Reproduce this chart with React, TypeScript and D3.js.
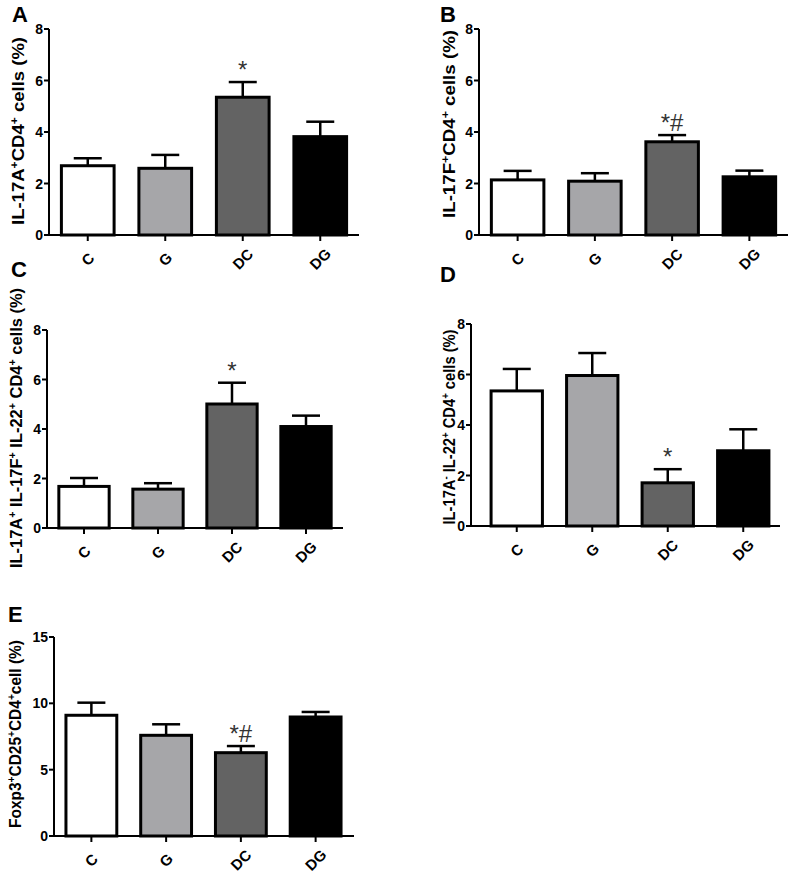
import React from "react";
import * as d3 from "d3";

const groups = ["C", "G", "DC", "DG"];
const fills = ["#ffffff", "#a6a6a9", "#636363", "#000000"];

const meanA = [2.69, 2.59, 5.35, 3.82];
const semA = [0.29, 0.52, 0.59, 0.58];
const meanB = [2.14, 2.09, 3.62, 2.26];
const semB = [0.35, 0.31, 0.26, 0.24];
const meanC = [1.68, 1.57, 5.01, 4.1];
const semC = [0.34, 0.24, 0.86, 0.44];
const meanD = [5.35, 5.96, 1.71, 2.98];
const semD = [0.87, 0.89, 0.54, 0.85];
const meanE = [9.1, 7.59, 6.28, 8.97];
const semE = [0.95, 0.83, 0.5, 0.38];

const ticks8 = [0, 2, 4, 6, 8];
const ticks15 = [0, 5, 10, 15];

const FONT = "'Liberation Sans', Arial, Helvetica, sans-serif";

type LabelPart = { t: string; sup?: boolean };

type PanelProps = {
  letter: string;
  letterX: number;
  letterY: number;
  axisX: number;
  axisRight: number;
  bandStart: number;
  bandEnd: number;
  y0: number;
  yTop: number;
  yMax: number;
  ticks: number[];
  means: number[];
  sems: number[];
  label: LabelPart[];
  labelX: number;
  labelCY: number;
  labelLen: number;
  mark: string;
  markIndex: number;
};

function Panel(p: PanelProps) {
  const x = d3
    .scaleBand<string>()
    .domain(groups)
    .range([p.bandStart, p.bandEnd])
    .paddingInner(0.32)
    .paddingOuter(0.16);
  const y = d3.scaleLinear().domain([0, p.yMax]).range([p.y0, p.yTop]);
  const bw = x.bandwidth();
  const capHalf = 14;
  return (
    <g>
      <text x={p.letterX} y={p.letterY} fontFamily={FONT} fontWeight="bold" fontSize={22} fill="#000">
        {p.letter}
      </text>
      <text
        transform={`translate(${p.labelX},${p.labelCY}) rotate(-90)`}
        textAnchor="middle"
        fontFamily={FONT}
        fontWeight="bold"
        fontSize={16}
        textLength={p.labelLen}
        lengthAdjust="spacingAndGlyphs"
        fill="#000"
      >
        {p.label.map((part, i) =>
          part.sup ? (
            <tspan key={i} fontSize={10.5} baselineShift="55%">
              {part.t}
            </tspan>
          ) : (
            <tspan key={i}>{part.t}</tspan>
          )
        )}
      </text>
      {groups.map((g, i) => {
        const cx = (x(g) as number) + bw / 2;
        const top = y(p.means[i] + p.sems[i]);
        return (
          <g key={"e" + g} stroke="#000" strokeWidth={2.5}>
            <line x1={cx} x2={cx} y1={y(p.means[i])} y2={top} />
            <line x1={cx - capHalf} x2={cx + capHalf} y1={top} y2={top} />
          </g>
        );
      })}
      {groups.map((g, i) => (
        <rect
          key={"b" + g}
          x={x(g) as number}
          y={y(p.means[i])}
          width={bw}
          height={p.y0 - y(p.means[i])}
          fill={fills[i]}
          stroke="#000"
          strokeWidth={3}
        />
      ))}
      <line x1={p.axisX} x2={p.axisX} y1={p.y0} y2={p.yTop} stroke="#000" strokeWidth={2} />
      <line x1={p.axisX - 1} x2={p.axisRight} y1={p.y0} y2={p.y0} stroke="#000" strokeWidth={2} />
      {p.ticks.map((t) => (
        <g key={"t" + t}>
          <line x1={p.axisX - 5} x2={p.axisX} y1={y(t)} y2={y(t)} stroke="#000" strokeWidth={2} />
          <text
            x={p.axisX - 6}
            y={y(t)}
            dy="0.36em"
            textAnchor="end"
            fontFamily={FONT}
            fontWeight="bold"
            fontSize={14}
            fill="#000"
          >
            {t}
          </text>
        </g>
      ))}
      {groups.map((g) => {
        const cx = (x(g) as number) + bw / 2;
        return (
          <g key={"x" + g}>
            <line x1={cx} x2={cx} y1={p.y0} y2={p.y0 + 6} stroke="#000" strokeWidth={2} />
            <text
              transform={`translate(${cx},${p.y0 + 24}) rotate(-45)`}
              textAnchor="middle"
              dy="0.36em"
              fontFamily={FONT}
              fontWeight="bold"
              fontSize={15}
              fill="#000"
            >
              {g}
            </text>
          </g>
        );
      })}
      <text
        x={(x(groups[p.markIndex]) as number) + bw / 2}
        y={y(p.means[p.markIndex] + p.sems[p.markIndex]) - 4}
        textAnchor="middle"
        fontFamily={FONT}
        fontSize={24}
        fill="#333"
      >
        {p.mark}
      </text>
    </g>
  );
}

export default function App() {
  return (
    <svg
      width={794}
      height={877}
      viewBox="0 0 794 877"
      style={{ position: "absolute", left: 0, top: 0, background: "#fff" }}
    >
      <rect x={0} y={0} width={794} height={877} fill="#fff" />
      <Panel
        letter="A"
        letterX={12}
        letterY={22}
        axisX={49}
        axisRight={359}
        bandStart={49}
        bandEnd={359}
        y0={235}
        yTop={29}
        yMax={8}
        ticks={ticks8}
        means={meanA}
        sems={semA}
        label={[{ t: "IL-17A" }, { t: "+", sup: true }, { t: "CD4" }, { t: "+", sup: true }, { t: "  cells (%)" }]}
        labelX={24}
        labelCY={131}
        labelLen={188}
        mark="*"
        markIndex={2}
      />
      <Panel
        letter="B"
        letterX={440}
        letterY={22}
        axisX={479}
        axisRight={788}
        bandStart={479}
        bandEnd={788}
        y0={235}
        yTop={29}
        yMax={8}
        ticks={ticks8}
        means={meanB}
        sems={semB}
        label={[{ t: "IL-17F" }, { t: "+", sup: true }, { t: "CD4" }, { t: "+", sup: true }, { t: " cells (%)" }]}
        labelX={455}
        labelCY={124}
        labelLen={188}
        mark="*#"
        markIndex={2}
      />
      <Panel
        letter="C"
        letterX={11}
        letterY={277}
        axisX={47}
        axisRight={343}
        bandStart={47}
        bandEnd={343}
        y0={528}
        yTop={330}
        yMax={8}
        ticks={ticks8}
        means={meanC}
        sems={semC}
        label={[
          { t: "IL-17A" },
          { t: "+", sup: true },
          { t: " IL-17F" },
          { t: "+", sup: true },
          { t: " IL-22" },
          { t: "+", sup: true },
          { t: " CD4" },
          { t: "+", sup: true },
          { t: " cells (%)" },
        ]}
        labelX={22}
        labelCY={428}
        labelLen={280}
        mark="*"
        markIndex={2}
      />
      <Panel
        letter="D"
        letterX={440}
        letterY={282}
        axisX={471}
        axisRight={780}
        bandStart={479}
        bandEnd={781}
        y0={526}
        yTop={324}
        yMax={8}
        ticks={ticks8}
        means={meanD}
        sems={semD}
        label={[
          { t: "IL-17A" },
          { t: "-", sup: true },
          { t: " IL-22" },
          { t: "+", sup: true },
          { t: " CD4" },
          { t: "+", sup: true },
          { t: "  cells (%)" },
        ]}
        labelX={455}
        labelCY={427}
        labelLen={195}
        mark="*"
        markIndex={2}
      />
      <Panel
        letter="E"
        letterX={8}
        letterY={622}
        axisX={54}
        axisRight={354}
        bandStart={54}
        bandEnd={353}
        y0={836}
        yTop={637}
        yMax={15}
        ticks={ticks15}
        means={meanE}
        sems={semE}
        label={[
          { t: "Foxp3" },
          { t: "+", sup: true },
          { t: "CD25" },
          { t: "+", sup: true },
          { t: "CD4" },
          { t: "+", sup: true },
          { t: "cell (%)" },
        ]}
        labelX={21}
        labelCY={734}
        labelLen={188}
        mark="*#"
        markIndex={2}
      />
    </svg>
  );
}
